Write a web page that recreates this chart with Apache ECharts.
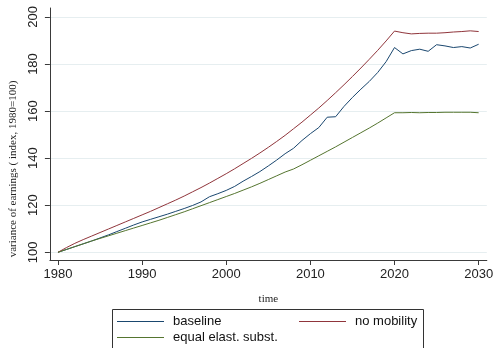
<!DOCTYPE html>
<html>
<head>
<meta charset="utf-8">
<script src="https://cdn.jsdelivr.net/npm/echarts@6/dist/echarts.min.js"></script>
<style>
  html, body { margin: 0; padding: 0; background: #fff; }
  #chart { width: 496px; height: 348px; }
</style>
</head>
<body>
<div id="chart"></div>
<script>
// Simulated variance of earnings, index 1980 = 100
const years = [];
for (let y = 1980; y <= 2030; y++) years.push(y);

const baseline = [
  100.0, 101.2, 102.4, 103.6, 104.8, 106.1, 107.4, 108.8, 110.2, 111.6,
  112.9, 114.0, 115.1, 116.2, 117.4, 118.6, 119.9, 121.4, 123.6, 124.9,
  126.3, 128.0, 130.2, 132.2, 134.3, 136.7, 139.2, 141.9, 144.2, 147.5,
  150.4, 153.0, 157.4, 157.6, 162.0, 165.8, 169.3, 172.6, 176.4, 181.0,
  187.0, 184.3, 185.7, 186.3, 185.4, 188.2, 187.7, 187.0, 187.4, 186.8,
  188.4
];

const noMobility = [
  100.0, 102.0, 103.8, 105.4, 106.9, 108.4, 109.9, 111.4, 112.9, 114.4,
  115.9, 117.4, 119.0, 120.6, 122.2, 123.9, 125.7, 127.5, 129.4, 131.4,
  133.4, 135.5, 137.7, 139.9, 142.2, 144.6, 147.1, 149.7, 152.5, 155.3,
  158.3, 161.3, 164.5, 167.8, 171.2, 174.7, 178.3, 182.0, 185.8, 189.8,
  194.0, 193.3, 192.8, 193.0, 193.1, 193.1, 193.3, 193.6, 193.8, 194.1,
  193.8
];

const equalElast = [
  100.0, 101.2, 102.4, 103.6, 104.8, 105.9, 107.0, 108.1, 109.2, 110.3,
  111.4, 112.5, 113.6, 114.8, 116.0, 117.2, 118.5, 119.8, 121.1, 122.4,
  123.7, 125.0, 126.4, 127.8, 129.3, 130.9, 132.5, 134.1, 135.4, 137.2,
  139.1, 141.0, 142.9, 144.8, 146.8, 148.8, 150.8, 152.8, 154.9, 157.1,
  159.3, 159.3, 159.4, 159.3, 159.4, 159.4, 159.5, 159.5, 159.5, 159.5,
  159.3
];

const xTicks = [1980, 1990, 2000, 2010, 2020, 2030];
const yTicks = [100, 120, 140, 160, 180, 200];

const seriesNames = ['baseline', 'no mobility', 'equal elast. subst.'];
const seriesColors = ['#1a476f', '#90353b', '#55752f'];
const seriesData = [baseline, noMobility, equalElast];

const chart = echarts.init(document.getElementById('chart'), null, { renderer: 'canvas' });

const axisColor = '#3a3a3a';
const sans = 'Liberation Sans, Arial, sans-serif';
const serif = 'Liberation Serif, Times New Roman, serif';

// Legend keys are drawn as thin horizontal strokes
const legendCommon = {
  orient: 'vertical',
  top: 315,
  icon: 'rect',
  itemWidth: 47, itemHeight: 1.2, itemGap: 3, padding: 0,
  textStyle: { fontFamily: sans, fontSize: 13, color: '#111', padding: [0, 0, 0, 4], lineHeight: 13 }
};

chart.setOption({
  animation: false,
  backgroundColor: '#ffffff',
  grid: { left: 44, right: 4.5, top: 8, bottom: 88 },
  xAxis: {
    type: 'value',
    min: 1979.04,
    max: 2030.97,
    name: 'time',
    nameLocation: 'middle',
    nameGap: 34,
    nameTextStyle: { fontFamily: serif, fontSize: 11, color: '#222' },
    axisLine: { show: true, lineStyle: { color: axisColor, width: 1 } },
    axisTick: { show: true, length: 5, customValues: xTicks, lineStyle: { color: axisColor } },
    axisLabel: {
      customValues: xTicks, margin: 8,
      fontFamily: sans, fontSize: 13, color: '#222',
      formatter: v => String(v)
    },
    splitLine: { show: false }
  },
  yAxis: {
    type: 'value',
    min: 96.73,
    max: 203.8,
    name: 'variance of earnings ( index, 1980=100)',
    nameLocation: 'middle',
    nameGap: 29,
    nameRotate: 90,
    nameTextStyle: { fontFamily: serif, fontSize: 11, color: '#222', padding: [0, 70, 0, 0] },
    axisLine: { show: true, lineStyle: { color: axisColor, width: 1 } },
    axisTick: { show: true, length: 5, customValues: yTicks, lineStyle: { color: axisColor } },
    axisLabel: {
      customValues: yTicks, rotate: 90, margin: 10,
      fontFamily: sans, fontSize: 13, color: '#222',
      formatter: v => String(v)
    },
    splitLine: { show: true, lineStyle: { color: '#e6eef0', width: 1 } }
  },
  legend: [
    Object.assign({}, legendCommon, { data: ['baseline', 'equal elast. subst.'], left: 117 }),
    Object.assign({}, legendCommon, { data: ['no mobility'], left: 299 })
  ],
  graphic: [
    {
      type: 'rect',
      shape: { x: 112.5, y: 309.5, width: 311, height: 45 },
      style: { fill: 'none', stroke: '#333', lineWidth: 1 },
      silent: true
    }
  ],
  series: seriesNames.map((name, i) => ({
    name,
    type: 'line',
    symbol: 'none',
    data: years.map((y, j) => [y, seriesData[i][j]]),
    lineStyle: { color: seriesColors[i], width: 1 },
    itemStyle: { color: seriesColors[i] }
  }))
});
</script>
</body>
</html>
